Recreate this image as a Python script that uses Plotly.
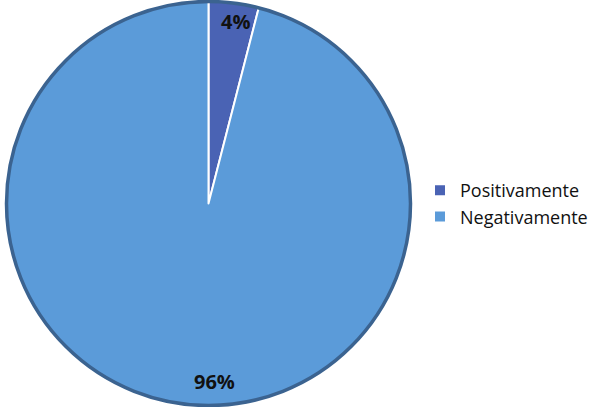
import plotly.graph_objects as go

labels = ["Positivamente", "Negativamente"]
values = [4, 96]
colors = ["#4a63b4", "#5b9bd9"]

# label anchor points (paper coords) for percent texts
label_pos = [(0.392, 0.946), (0.357, 0.062)]

total = sum(values)

DOM_X = [0.005, 0.69]
cx = (DOM_X[0] + DOM_X[1]) / 2 * 600
r = 202

fig = go.Figure()
fig.add_trace(go.Pie(
    labels=labels,
    values=values,
    sort=False,
    direction="clockwise",
    rotation=0,
    marker=dict(colors=colors, line=dict(color="white", width=2)),
    textinfo="none",
    domain=dict(x=DOM_X, y=[0, 1]),
    hoverinfo="label+percent",
))

annotations = []
for v, (ax, ay) in zip(values, label_pos):
    annotations.append(dict(
        x=ax, y=ay, xref="paper", yref="paper",
        xanchor="center", yanchor="middle",
        text="<b>%d%%</b>" % round(100 * v / total),
        showarrow=False,
        font=dict(family="Open Sans", size=20, color="#111111"),
    ))

fig.update_layout(
    width=600, height=407,
    margin=dict(l=0, r=0, t=0, b=0, autoexpand=False),
    paper_bgcolor="white",
    plot_bgcolor="white",
    showlegend=True,
    legend=dict(
        x=0.7, y=0.5, xanchor="left", yanchor="middle",
        font=dict(family="Open Sans", size=18, color="#111111"),
        itemsizing="constant",
    ),
    annotations=annotations,
    shapes=[dict(
        type="circle", xref="paper", yref="paper",
        x0=(cx - r) / 600, x1=(cx + r) / 600,
        y0=(203.5 - r) / 407, y1=(203.5 + r) / 407,
        line=dict(color="#3b6390", width=3.5),
    )],
)

fig.write_html(
    "out.html",
    config={"displayModeBar": False},
    post_script="document.body.style.margin='0';document.body.style.overflow='hidden';",
)
